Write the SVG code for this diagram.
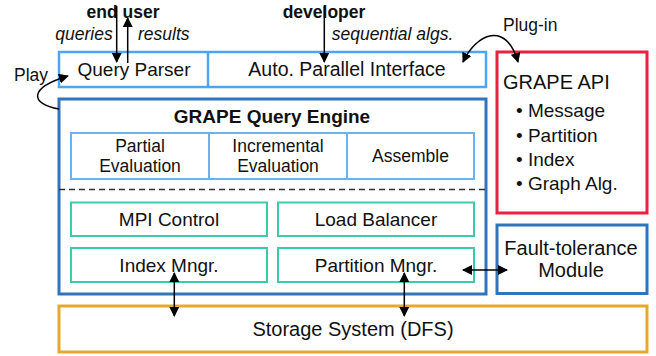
<svg xmlns="http://www.w3.org/2000/svg" width="656" height="356" viewBox="0 0 656 356">
<defs>
<marker id="ah" viewBox="0 0 10 10" refX="9" refY="5" markerWidth="10" markerHeight="10" markerUnits="userSpaceOnUse" orient="auto-start-reverse">
<path d="M0,0 L10,5 L0,10 z" fill="#000"/>
</marker>
<style>
text{font-family:"Liberation Sans",Arial,sans-serif;fill:#111}
.t19{font-size:19px}
.t17{font-size:17.5px}
.b{font-weight:bold}
.i{font-style:italic}
.mid{text-anchor:middle}
.lb{fill:#fff;stroke:#4DA6F2;stroke-width:2.5}
.db{fill:#fff;stroke:#2E75BE;stroke-width:3}
.ib{fill:#fff;stroke:#6AB2F0;stroke-width:2}
.gb{fill:#fff;stroke:#3CCBAA;stroke-width:2}
.conn{fill:none;stroke:#000;stroke-width:1.5}
</style>
</defs>
<g id="storage">
<rect x="59" y="306" width="588" height="46" fill="#fff" stroke="#E5A832" stroke-width="3"/>
<text class="t19 mid" x="353" y="336" style="font-size:20px">Storage System (DFS)</text>
</g>
<g id="top-bar">
<rect class="lb" x="59" y="52" width="427" height="35"/>
<line x1="208" y1="52" x2="208" y2="87" stroke="#4DA6F2" stroke-width="2.5"/>
</g>
<g id="query-parser">
<text class="t19 mid" x="134" y="76">Query Parser</text>
</g>
<g id="auto-parallel">
<text class="t19 mid" x="347" y="76" style="font-size:19.5px">Auto. Parallel Interface</text>
</g>
<g id="engine">
<rect class="db" x="59" y="99" width="427" height="195"/>
<text class="t19 b mid" x="272" y="123">GRAPE Query Engine</text>
<line x1="59" y1="189.5" x2="486" y2="189.5" stroke="#333" stroke-width="1.5" stroke-dasharray="6,4"/>
</g>
<g id="eval-row">
<rect class="ib" x="71" y="133" width="403" height="46"/>
<line x1="209" y1="133" x2="209" y2="179" stroke="#6AB2F0" stroke-width="2"/>
<line x1="347" y1="133" x2="347" y2="179" stroke="#6AB2F0" stroke-width="2"/>
</g>
<g id="partial-eval">
<text class="t17 mid" x="140" y="152">Partial</text>
<text class="t17 mid" x="140" y="172">Evaluation</text>
</g>
<g id="incremental-eval">
<text class="t17 mid" x="278" y="152">Incremental</text>
<text class="t17 mid" x="278" y="172">Evaluation</text>
</g>
<g id="assemble">
<text class="t17 mid" x="410.5" y="162">Assemble</text>
</g>
<g id="mpi-control">
<rect class="gb" x="71" y="202.5" width="196" height="33.5"/>
<text class="t19 mid" x="169" y="226">MPI Control</text>
</g>
<g id="load-balancer">
<rect class="gb" x="278" y="202.5" width="196" height="33.5"/>
<text class="t19 mid" x="376" y="226">Load Balancer</text>
</g>
<g id="index-mngr">
<rect class="gb" x="71" y="248" width="196" height="34"/>
<text class="t19 mid" x="169" y="272">Index Mngr.</text>
</g>
<g id="partition-mngr">
<rect class="gb" x="278" y="248" width="196" height="34"/>
<text class="t19 mid" x="376" y="272">Partition Mngr.</text>
</g>
<g id="grape-api">
<rect x="497" y="52" width="150" height="161" fill="#fff" stroke="#E8213F" stroke-width="3"/>
<text class="t19" x="503" y="89" style="font-size:20px">GRAPE API</text>
<text class="t19" x="516" y="117">• Message</text>
<text class="t19" x="516" y="142">• Partition</text>
<text class="t19" x="516" y="166">• Index</text>
<text class="t19" x="516" y="190">• Graph Alg.</text>
</g>
<g id="fault-tolerance">
<rect class="db" x="497" y="225" width="150" height="68.5"/>
<text class="t19 mid" x="571" y="255" style="font-size:20px">Fault-tolerance</text>
<text class="t19 mid" x="571" y="277" style="font-size:20px">Module</text>
</g>
<g id="end-user">
<text class="t17 b mid" x="123" y="18">end user</text>
</g>
<g id="developer">
<text class="t17 b mid" x="324" y="18">developer</text>
</g>
<g id="connectors">
<line class="conn" x1="116.7" y1="6" x2="116.7" y2="62" marker-end="url(#ah)"/>
<line class="conn" x1="127.7" y1="63" x2="127.7" y2="18" marker-end="url(#ah)"/>
<line class="conn" x1="324.3" y1="6" x2="324.3" y2="62" marker-end="url(#ah)"/>
<line class="conn" x1="174.3" y1="273" x2="174.3" y2="316" marker-start="url(#ah)" marker-end="url(#ah)"/>
<line class="conn" x1="404.3" y1="273" x2="404.3" y2="316" marker-start="url(#ah)" marker-end="url(#ah)"/>
<line class="conn" x1="463" y1="270" x2="507" y2="270" marker-start="url(#ah)" marker-end="url(#ah)"/>
<path class="conn" d="M59,109 C30,104 28,88 68,76" marker-end="url(#ah)"/>
<path class="conn" d="M463,62 C476,34 506,20 518,62" marker-start="url(#ah)" marker-end="url(#ah)"/>
<text class="t17 i" x="112.7" y="40" text-anchor="end">queries</text>
<text class="t17 i" x="138" y="40">results</text>
<text class="t17 i" x="331.7" y="40">sequential algs.</text>
<text class="t17" x="14" y="81">Play</text>
<text class="t17" x="503" y="31">Plug-in</text>
</g>
</svg>
